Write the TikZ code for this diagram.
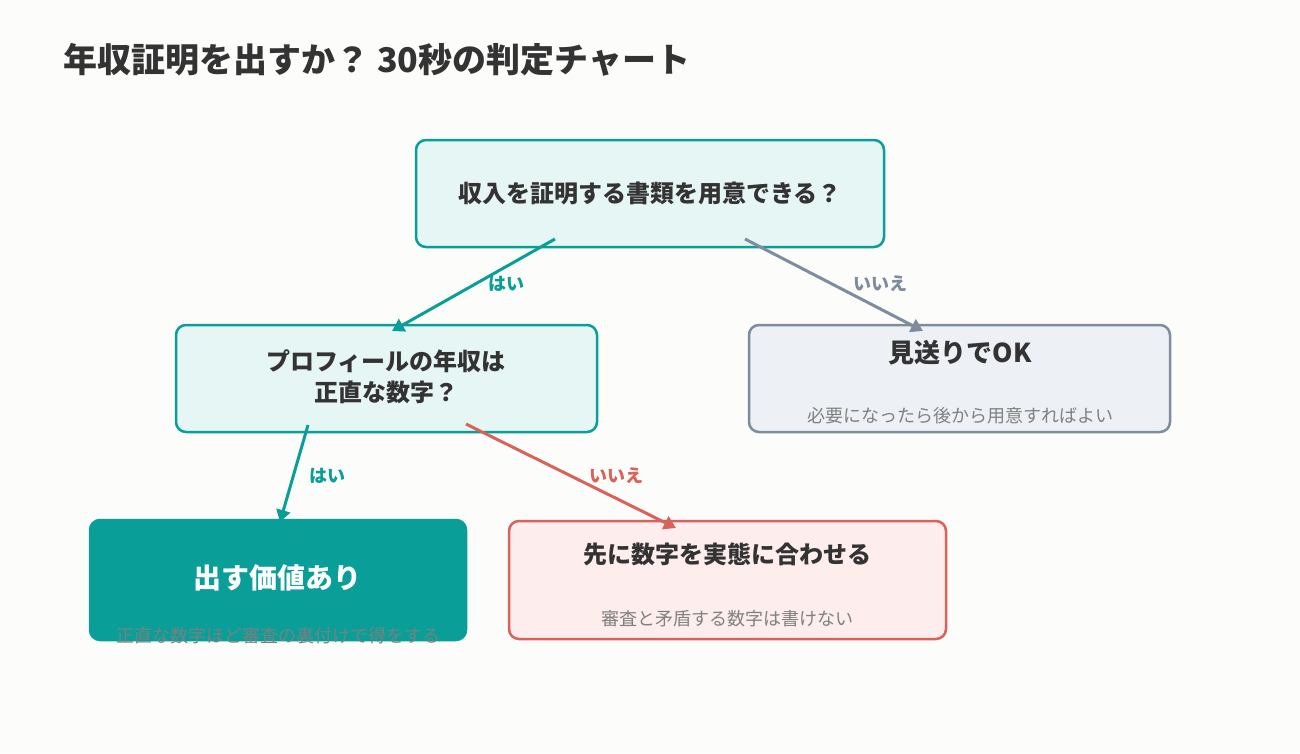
\documentclass[tikz,border=0pt]{standalone}
\usepackage{fontspec}
\setmainfont{Noto Sans CJK JP}
\usetikzlibrary{arrows.meta}
\definecolor{teal}{HTML}{0A9E98}
\definecolor{tealbg}{HTML}{E6F6F5}
\definecolor{slate}{HTML}{7F8C9D}
\definecolor{slatebg}{HTML}{EDF1F5}
\definecolor{red}{HTML}{D9625A}
\definecolor{redbg}{HTML}{FDEDEC}
\definecolor{ink}{HTML}{333333}
\definecolor{sub}{HTML}{808080}
\definecolor{bg}{HTML}{FCFCFA}
\begin{document}
\begin{tikzpicture}[x=1pt,y=-1pt,
  box/.style={draw, line width=2.5pt, rounded corners=10pt},
  main/.style={font=\fontsize{24}{31}\selectfont\bfseries, text=ink, align=center},
  small/.style={font=\fontsize{18}{22}\selectfont, text=sub},
  lab/.style={font=\fontsize{18}{20}\selectfont\bfseries},
  arr/.style={line width=3pt, -{Triangle[length=12pt,width=14pt]}}]
\useasboundingbox[fill=bg] (0,0) rectangle (1300,753);
\node[anchor=west, font=\fontsize{34}{38}\selectfont\bfseries, text=ink] (title) at (60,60) {年収証明を出すか？ 30秒の判定チャート};
\draw[box, draw=teal, fill=tealbg] (416,140) rectangle (884,247);
\node[main] (q1) at (650,193) {収入を証明する書類を用意できる？};
\draw[box, draw=teal, fill=tealbg] (176,325) rectangle (597,432);
\node[main] (q2) at (386,377) {プロフィールの年収は\\正直な数字？};
\draw[box, draw=slate, fill=slatebg] (749,325) rectangle (1170,432);
\node[main, font=\fontsize{26}{30}\selectfont\bfseries] (ok) at (960,353) {見送りでOK};
\node[small] (oks) at (960,416) {必要になったら後から用意すればよい};
\draw[box, draw=teal, fill=teal] (90,520) rectangle (466,640);
\node[main, text=white, font=\fontsize{28}{30}\selectfont\bfseries] (yes) at (277,578) {出す価値あり};
\node[small, text=sub!90!teal] (yess) at (278,636) {正直な数字ほど審査の裏付けで得をする};
\draw[box, draw=red, fill=redbg] (509,521) rectangle (946,639);
\node[main] (fix) at (727,554) {先に数字を実態に合わせる};
\node[small] (fixs) at (727,619) {審査と矛盾する数字は書けない};
\coordinate (a1s) at (555,239); \coordinate (a1e) at (392,331);
\coordinate (a2s) at (745,239); \coordinate (a2e) at (923,331);
\coordinate (a3s) at (308,425); \coordinate (a3e) at (280,522);
\coordinate (a4s) at (466,424); \coordinate (a4e) at (676,528);
\draw[arr, teal] (a1s) -- (a1e);
\draw[arr, slate] (a2s) -- (a2e);
\draw[arr, teal] (a3s) -- (a3e);
\draw[arr, red] (a4s) -- (a4e);
\node[lab, text=teal] at (506,284) {はい};
\node[lab, text=slate] at (880,284) {いいえ};
\node[lab, text=teal] at (327,476) {はい};
\node[lab, text=red] at (616,476) {いいえ};
\end{tikzpicture}
\end{document}
